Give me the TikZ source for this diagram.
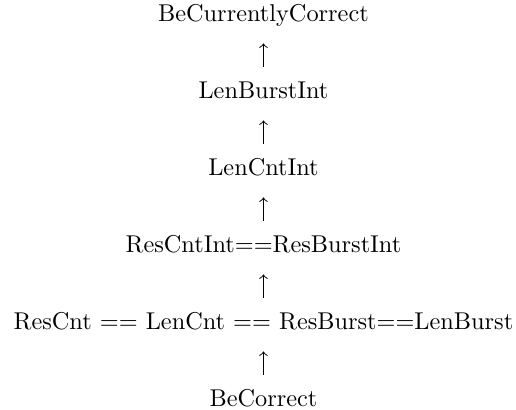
\documentclass[tikz,border=0pt]{standalone}
\usepackage{tikz}
\usetikzlibrary{positioning}

\begin{document}
\begin{tikzpicture}[
  lvl/.style={inner sep=0pt,text height=6.94pt,text depth=1.94pt},
  up/.style={-to,shorten <=6.1pt,shorten >=6.7pt},
  node distance=22.4pt
]
% fixed frame
\useasboundingbox (-108.4pt,-159.4pt) rectangle (103.9pt,9.05pt);

% chain of properties, bottom to top
\node[lvl,anchor=base] (becur) at (0,0) {BeCurrentlyCorrect};
\node[lvl,below=of becur] (lenburst) {LenBurstInt};
\node[lvl,below=of lenburst] (lencnt) {LenCntInt};
\node[lvl,below=of lencnt] (resint) {ResCntInt==ResBurstInt};
\node[lvl,below=of resint] (alleq) {ResCnt == LenCnt == ResBurst==LenBurst};
\node[lvl,below=of alleq] (becorr) {BeCorrect};

\draw[up] (becorr) -- (alleq);
\draw[up] (alleq) -- (resint);
\draw[up] (resint) -- (lencnt);
\draw[up] (lencnt) -- (lenburst);
\draw[up] (lenburst) -- (becur);
\end{tikzpicture}
\end{document}
